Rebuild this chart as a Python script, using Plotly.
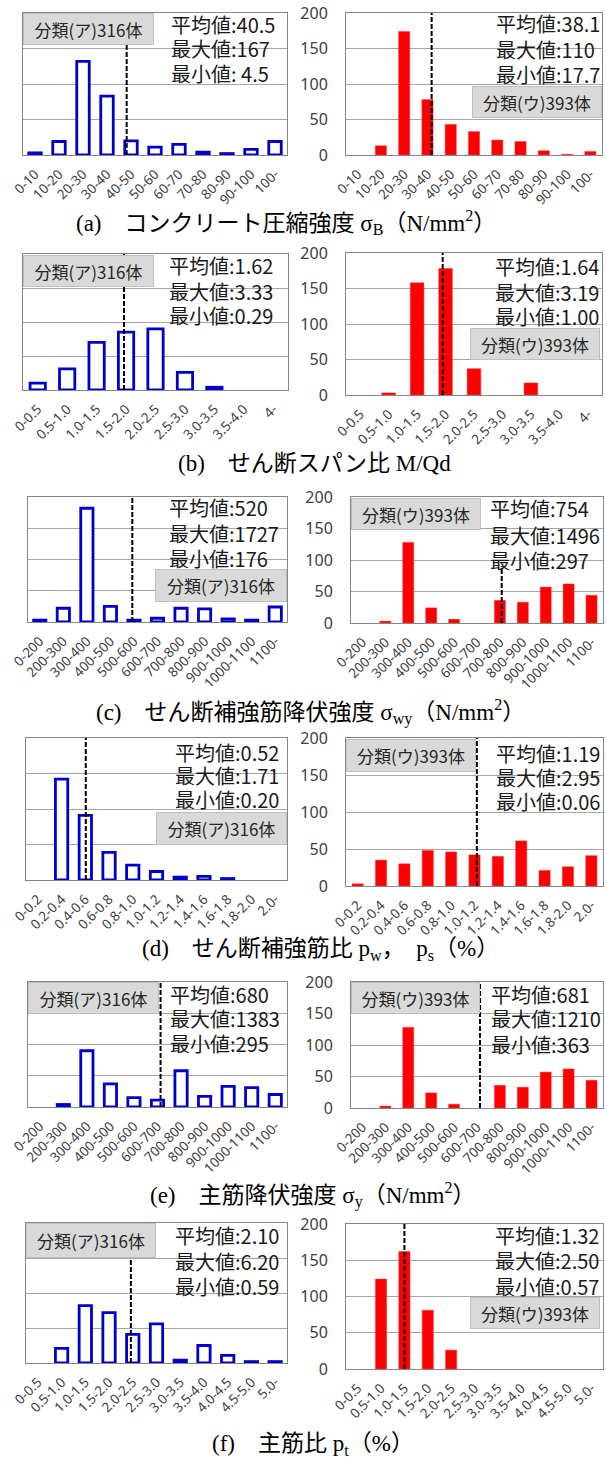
import plotly.graph_objects as go

W, H = 607, 1461

# ---------------- data ----------------
cats_a = ["0-10", "10-20", "20-30", "30-40", "40-50", "50-60", "60-70", "70-80", "80-90", "90-100", "100-"]
a_left = [3, 19, 132, 83, 20, 11, 15, 4, 2, 8, 19]
a_right = [0, 13, 174, 78, 43, 33, 21, 19, 6, 1, 5]

cats_b = ["0-0.5", "0.5-1.0", "1.0-1.5", "1.5-2.0", "2.0-2.5", "2.5-3.0", "3.0-3.5", "3.5-4.0", "4-"]
b_left = [10, 31, 70, 85, 90, 26, 4, 0, 0]
b_right = [0, 3, 158, 178, 37, 0, 17, 0, 0]

cats_c = ["0-200", "200-300", "300-400", "400-500", "500-600", "600-700", "700-800", "800-900",
          "900-1000", "1000-1100", "1100-"]
c_left = [3, 22, 182, 25, 3, 6, 22, 21, 5, 3, 24]
c_right = [0, 3, 128, 24, 6, 0, 36, 33, 57, 62, 44]

cats_d = ["0-0.2", "0.2-0.4", "0.4-0.6", "0.6-0.8", "0.8-1.0", "1.0-1.2", "1.2-1.4", "1.4-1.6",
          "1.6-1.8", "1.8-2.0", "2.0-"]
d_left = [0, 142, 91, 39, 21, 12, 4, 5, 2, 0, 0]
d_right = [3, 35, 30, 48, 46, 42, 40, 61, 21, 26, 41]

cats_e = ["0-200", "200-300", "300-400", "400-500", "500-600", "600-700", "700-800", "800-900",
          "900-1000", "1000-1100", "1100-"]
e_left = [0, 4, 90, 37, 15, 11, 58, 17, 33, 31, 20]
e_right = [0, 3, 128, 24, 6, 0, 36, 33, 57, 62, 44]

cats_f = ["0-0.5", "0.5-1.0", "1.0-1.5", "1.5-2.0", "2.0-2.5", "2.5-3.0", "3.0-3.5", "3.5-4.0",
          "4.0-4.5", "4.5-5.0", "5.0-"]
f_left = [0, 21, 82, 72, 41, 56, 4, 25, 11, 2, 2]
f_right = [0, 124, 162, 81, 26, 0, 0, 0, 0, 0, 0]

# mean line positions (category index units) and their top values
mean_pos_left = [3.82, 2.93, 3.93, 2.02, 5.13, 3.92]
mean_pos_right = [3.18, 2.90, 6.08, 5.10, 5.13, 2.00]
mean_top_left = [200, 200, 200, 200, 200, 200]
mean_top_right = [200, 200, 90, 200, 200, 200]

stats_left = [
    ["平均値:40.5", "最大値:167", "最小値: 4.5"],
    ["平均値:1.62", "最大値:3.33", "最小値:0.29"],
    ["平均値:520", "最大値:1727", "最小値:176"],
    ["平均値:0.52", "最大値:1.71", "最小値:0.20"],
    ["平均値:680", "最大値:1383", "最小値:295"],
    ["平均値:2.10", "最大値:6.20", "最小値:0.59"],
]
stats_right = [
    ["平均値:38.1", "最大値:110", "最小値:17.7"],
    ["平均値:1.64", "最大値:3.19", "最小値:1.00"],
    ["平均値:754", "最大値:1496", "最小値:297"],
    ["平均値:1.19", "最大値:2.95", "最小値:0.06"],
    ["平均値:681", "最大値:1210", "最小値:363"],
    ["平均値:1.32", "最大値:2.50", "最小値:0.57"],
]
label_left = "分類(ア)316体"
label_right = "分類(ウ)393体"

captions = [
    "(a)　コンクリート圧縮強度 σ<sub>B</sub>（N/mm<sup>2</sup>）",
    "(b)　せん断スパン比 M/Qd",
    "(c)　せん断補強筋降伏強度 σ<sub>wy</sub>（N/mm<sup>2</sup>）",
    "(d)　せん断補強筋比 p<sub>w</sub>，  p<sub>s</sub>（%）",
    "(e)　主筋降伏強度 σ<sub>y</sub>（N/mm<sup>2</sup>）",
    "(f)　主筋比 p<sub>t</sub>（%）",
]

cats_all = [cats_a, cats_b, cats_c, cats_d, cats_e, cats_f]
left_all = [a_left, b_left, c_left, d_left, e_left, f_left]
right_all = [a_right, b_right, c_right, d_right, e_right, f_right]

# ---------------- layout geometry (pixels) ----------------
geom_L = [(23, 287, 13, 155), (23, 288, 254, 390), (28, 287, 497, 622),
          (26, 287, 738, 880), (28, 287, 982, 1107), (26, 287, 1223, 1363)]
geom_R = [(346, 602, 13, 155), (346, 602, 253, 395), (351, 603, 497, 623),
          (346, 603, 738, 886), (351, 603, 982, 1108), (346, 603, 1224, 1369)]
box_L = [(23, 154, 13, 45), (23, 154, 255, 287), (155, 287, 569, 602),
         (156, 287, 812, 845), (28, 159, 982, 1014), (26, 156, 1223, 1258)]
box_R = [(472, 602, 86, 118), (470, 600, 328, 360), (351, 481, 498, 530),
         (346, 476, 739, 772), (351, 480, 982, 1014), (470, 600, 1297, 1329)]
stat_L = [(169, (24, 48, 73)), (167, (265, 291, 315)), (167, (508, 533, 558)),
          (173, (752, 776, 799)), (168, (994, 1018, 1043)), (173, (1235, 1261, 1286))]
stat_R = [(494, (23, 49, 74)), (493, (266, 292, 316)), (488, (509, 535, 560)),
          (494, (753, 777, 802)), (489, (994, 1018, 1044)), (493, (1235, 1260, 1286))]
cap_pos = [(286, 222), (314, 463), (310, 712), (320, 950), (313, 1195), (313, 1445)]


def fx(v):
    return v / W


def fy(v):
    return 1 - v / H


JP = "Noto Sans CJK JP"
BLUE = "#0000CC"
RED = "#FF0000"

fig = go.Figure()
layout = dict(width=W, height=H, margin=dict(l=0, r=0, t=0, b=0),
              paper_bgcolor="white", plot_bgcolor="white", showlegend=False,
              bargap=0.5)
shapes = []
annotations = []

k = 0
for r in range(6):
    for side in ("L", "R"):
        k += 1
        xa = "x" if k == 1 else f"x{k}"
        ya = "y" if k == 1 else f"y{k}"
        cats = cats_all[r]
        if side == "L":
            vals = left_all[r]
            g = geom_L[r]
            marker = dict(color="white", line=dict(color=BLUE, width=2.8))
            bw = 0.52
        else:
            vals = right_all[r]
            g = geom_R[r]
            marker = dict(color=RED, line=dict(color="#FF3333", width=0.5))
            bw = 0.48
        yv = [v if v > 0 else None for v in vals]
        fig.add_trace(go.Bar(x=cats, y=yv, marker=marker, width=bw, xaxis=xa, yaxis=ya))

        xk = "xaxis" if k == 1 else f"xaxis{k}"
        yk = "yaxis" if k == 1 else f"yaxis{k}"
        layout[xk] = dict(domain=[fx(g[0]), fx(g[1])], anchor=ya, type="category",
                          range=[-0.5, len(cats) - 0.5], tickangle=-45,
                          tickfont=dict(family="Noto Sans", size=13.5, color="#404040"),
                          showline=True, linecolor="#868686", linewidth=1, mirror=True,
                          showgrid=False, ticks="", automargin=False,
                          ticklabelstandoff=5, fixedrange=True)
        layout[yk] = dict(domain=[fy(g[3]), fy(g[2])], anchor=xa, range=[0, 200], dtick=50,
                          showgrid=True, gridcolor="#a6a6a6", gridwidth=1, zeroline=False,
                          showline=True, linecolor="#868686", linewidth=1, mirror=True,
                          showticklabels=(side == "R"), ticks="",
                          tickfont=dict(family="Noto Sans", size=16, color="#404040"),
                          ticklabelstandoff=14, automargin=False, fixedrange=True)

        # mean dashed line
        mp = mean_pos_left[r] if side == "L" else mean_pos_right[r]
        mt = mean_top_left[r] if side == "L" else mean_top_right[r]
        shapes.append(dict(type="line", xref=xa, yref=ya, x0=mp, x1=mp, y0=0, y1=mt,
                           line=dict(color="black", width=2, dash="5px,2px"), layer="above"))

        # gray category label box
        b = box_L[r] if side == "L" else box_R[r]
        annotations.append(dict(
            text=label_left if side == "L" else label_right,
            x=fx((b[0] + b[1]) / 2), y=fy((b[2] + b[3]) / 2), xref="paper", yref="paper",
            xanchor="center", yanchor="middle", showarrow=False,
            width=(b[1] - b[0]) - 4, height=(b[3] - b[2]) - 4, borderpad=1,
            bgcolor="#D9D9D9", bordercolor="#BFBFBF", borderwidth=1,
            font=dict(family=JP, size=17, color="#262626")))

        # stats text
        st = stat_L[r] if side == "L" else stat_R[r]
        texts = stats_left[r] if side == "L" else stats_right[r]
        for t, yy in zip(texts, st[1]):
            annotations.append(dict(text=t, x=fx(st[0]), y=fy(yy), xref="paper", yref="paper",
                                    xanchor="left", yanchor="middle", showarrow=False,
                                    font=dict(family=JP, size=20, color="#1a1a1a")))

    cx, cy = cap_pos[r]
    annotations.append(dict(text=captions[r], x=fx(cx), y=fy(cy), xref="paper", yref="paper",
                            xanchor="center", yanchor="middle", showarrow=False,
                            font=dict(family="Liberation Serif, Noto Sans CJK JP", size=23,
                                      color="black")))

layout["shapes"] = shapes
layout["annotations"] = annotations
fig.update_layout(**layout)
fig.write_html("out.html", config={"displayModeBar": False},
               post_script="document.body.style.margin='0px';document.body.style.overflow='hidden';")
